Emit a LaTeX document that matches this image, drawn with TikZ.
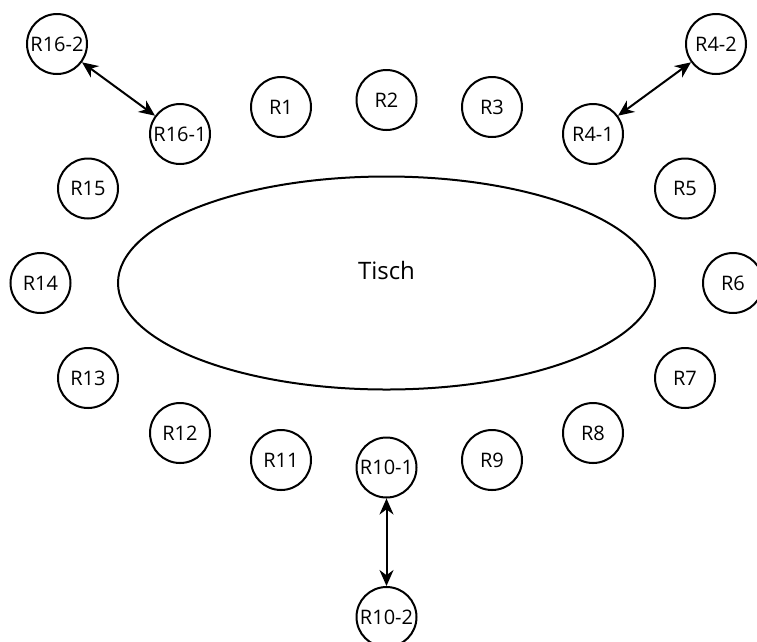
\documentclass[tikz,border=0pt]{standalone}
\usepackage{fontspec}
\setmainfont{Open Sans}
\usetikzlibrary{shapes.geometric,arrows.meta}
\begin{document}
\begin{tikzpicture}[x=1pt,y=-1pt,
  seat/.style={circle,draw=black,line width=2pt,minimum size=60pt,inner sep=0pt,
    font=\fontsize{20}{22}\selectfont,text=black},
  table/.style={ellipse,draw=black,line width=2pt,minimum width=537pt,minimum height=213pt,
    inner sep=0pt,font=\fontsize{24}{28}\selectfont,text=black,text height=10pt,text depth=18pt},
  link/.style={line width=2pt,draw=black,{Stealth[length=16pt,width=14pt]}-{Stealth[length=16pt,width=14pt]}}]
\useasboundingbox (0,0) rectangle (757,641);
\node[table] (tisch) at (386.5,283) {Tisch};
\node[seat] (r1) at (281,107) {R1};
\node[seat] (r2) at (386.5,100) {R2};
\node[seat] (r3) at (492,107) {R3};
\node[seat] (r41) at (593,134) {R4-1};
\node[seat] (r42) at (716,44) {R4-2};
\node[seat] (r5) at (685,188.5) {R5};
\node[seat] (r6) at (733,283) {R6};
\node[seat] (r7) at (685,378) {R7};
\node[seat] (r8) at (593,433) {R8};
\node[seat] (r9) at (492,460) {R9};
\node[seat] (r101) at (386.5,467.5) {R10-1};
\node[seat] (r102) at (386.5,617) {R10-2};
\node[seat] (r11) at (281,460) {R11};
\node[seat] (r12) at (180,433) {R12};
\node[seat] (r13) at (88,378) {R13};
\node[seat] (r14) at (40.5,283) {R14};
\node[seat] (r15) at (88,188.5) {R15};
\node[seat] (r161) at (180,134) {R16-1};
\node[seat] (r162) at (57,44) {R16-2};
\draw[link] (r162) -- (r161);
\draw[link] (r41) -- (r42);
\draw[link] (r101) -- (r102);
\end{tikzpicture}
\end{document}
